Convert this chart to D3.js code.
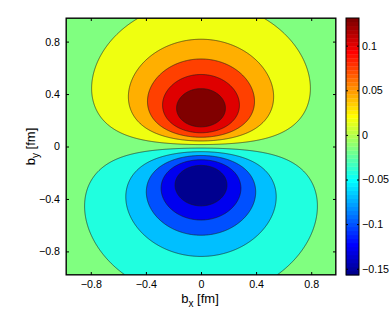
<!DOCTYPE html>
<html>
<head>
<meta charset="utf-8">
<script src="https://cdn.jsdelivr.net/npm/d3@7"></script>
<style>
  body { margin: 0; background: #fff; }
  text { font-family: "Liberation Sans", Arial, sans-serif; }
</style>
</head>
<body>
<svg id="chart"></svg>
<script>
// axis ranges and ticks
const xDomain = [-0.98, 0.98];
const yDomain = [-0.98, 0.98];
const xTicks = [-0.8, -0.4, 0, 0.4, 0.8];
const yTicks = [-0.8, -0.4, 0, 0.4, 0.8];

// colour bar range and ticks
const cbDomain = [-0.157, 0.131];
const cbTicks = [-0.15, -0.1, -0.05, 0, 0.05, 0.1];

// contour levels (the 10 lines in the plot)
const levels = [-0.128, -0.099, -0.071, -0.042, -0.013, 0.016, 0.045, 0.073, 0.102, 0.131];

// dipole-shaped lobe:
// value = lobeAmp * by * exp(-(sqrt(b^2 + lobeCore^2) - lobeCore) / lobeDecay)
const lobeAmp = 1.09;
const lobeCore = 0.22;
const lobeDecay = 0.21;

const W = 392, H = 316;
const plot = { left: 66, right: 336, top: 18, bottom: 275 };
const cbar = { left: 346, right: 359 };
const fontFamily = '"Liberation Sans", Arial, sans-serif';

const svg = d3.select("#chart").attr("width", W).attr("height", H);

const x = d3.scaleLinear().domain(xDomain).range([plot.left, plot.right]);
const y = d3.scaleLinear().domain(yDomain).range([plot.bottom, plot.top]);
const cScale = d3.scaleLinear().domain(cbDomain).range([plot.bottom, plot.top]);

// MATLAB jet(64)
function jet64() {
    const n = 16, u = [];
    for (let i = 1; i <= n; i++) u.push(i / n);
    for (let i = 1; i < n; i++) u.push(1);
    for (let i = n; i >= 1; i--) u.push(i / n);
    const rows = d3.range(64).map(() => [0, 0, 0]);
    u.forEach((v, j) => {
        const g = 9 + j, r = g + n, b = g - n;
        if (g <= 64) rows[g - 1][1] = v;
        if (r <= 64) rows[r - 1][0] = v;
        if (b >= 1) rows[b - 1][2] = v;
    });
    return rows.map(c => d3.rgb(c[0] * 255, c[1] * 255, c[2] * 255).formatHex());
}
const jet = jet64();
function colorOf(v) {
    let i = Math.floor((v - cbDomain[0]) / (cbDomain[1] - cbDomain[0]) * 64);
    i = Math.max(0, Math.min(63, i));
    return jet[i];
}

function field(bx, by) {
    const b2 = bx * bx + by * by;
    return lobeAmp * by * Math.exp(-(Math.sqrt(b2 + lobeCore * lobeCore) - lobeCore) / lobeDecay);
}

// grid over the plot area
const nx = 270, ny = 257;
const gx = d3.scaleLinear().domain([0, nx]).range([plot.left, plot.right]);
const gy = d3.scaleLinear().domain([0, ny]).range([plot.top, plot.bottom]);
const values = new Array(nx * ny);
for (let j = 0; j < ny; j++) {
    const by = y.invert(gy(j + 0.5));
    for (let i = 0; i < nx; i++) {
        const bx = x.invert(gx(i + 0.5));
        values[j * nx + i] = field(bx, by);
    }
}

const contours = d3.contours().size([nx, ny]).thresholds(levels)(values);
const proj = d3.geoTransform({
    point(px, py) { this.stream.point(gx(px), gy(py)); }
});
const path = d3.geoPath(proj);

svg.append("clipPath").attr("id", "plotClip")
    .append("rect")
    .attr("x", plot.left).attr("y", plot.top)
    .attr("width", plot.right - plot.left).attr("height", plot.bottom - plot.top);

const g = svg.append("g").attr("clip-path", "url(#plotClip)");

// lowest band
g.append("rect")
    .attr("x", plot.left).attr("y", plot.top)
    .attr("width", plot.right - plot.left).attr("height", plot.bottom - plot.top)
    .attr("fill", colorOf(cbDomain[0]));

g.selectAll("path.band")
    .data(contours)
    .enter()
    .append("path")
    .attr("class", "band")
    .attr("d", path)
    .attr("fill", d => colorOf(d.value))
    .attr("stroke", "none");

g.selectAll("path.line")
    .data(contours)
    .enter()
    .append("path")
    .attr("class", "line")
    .attr("d", path)
    .attr("fill", "none")
    .attr("stroke", "#1a1a1a")
    .attr("stroke-width", 0.6);

// axes, MATLAB style: ticks pointing in, on all sides
const fmt = d => d === 0 ? "0" : d3.format("~g")(d);

function styleAxis(sel) {
    sel.select(".domain").remove();
    sel.selectAll("text")
        .attr("font-family", fontFamily)
        .attr("font-size", 10.7)
        .attr("fill", "#000");
    sel.selectAll("line").attr("stroke", "#000");
}

svg.append("g")
    .attr("transform", `translate(0,${plot.bottom})`)
    .call(d3.axisBottom(x).tickValues(xTicks).tickFormat(fmt).tickSizeInner(-3).tickSizeOuter(0).tickPadding(5))
    .call(styleAxis);
svg.append("g")
    .attr("transform", `translate(0,${plot.top})`)
    .call(d3.axisTop(x).tickValues(xTicks).tickFormat("").tickSizeInner(-3).tickSizeOuter(0))
    .call(styleAxis);
svg.append("g")
    .attr("transform", `translate(${plot.left},0)`)
    .call(d3.axisLeft(y).tickValues(yTicks).tickFormat(fmt).tickSizeInner(-3).tickSizeOuter(0).tickPadding(6))
    .call(styleAxis);
svg.append("g")
    .attr("transform", `translate(${plot.right},0)`)
    .call(d3.axisRight(y).tickValues(yTicks).tickFormat("").tickSizeInner(-3).tickSizeOuter(0))
    .call(styleAxis);

svg.append("rect")
    .attr("x", plot.left).attr("y", plot.top)
    .attr("width", plot.right - plot.left).attr("height", plot.bottom - plot.top)
    .attr("fill", "none").attr("stroke", "#000").attr("stroke-width", 1);

// axis labels
const xl = svg.append("text")
    .attr("x", (plot.left + plot.right) / 2 - 1)
    .attr("y", 303)
    .attr("text-anchor", "middle")
    .attr("font-family", fontFamily)
    .attr("font-size", 13);
xl.append("tspan").text("b");
xl.append("tspan").attr("font-size", 10).attr("dy", 4).text("x");
xl.append("tspan").attr("dy", -4).text(" [fm]");

const yl = svg.append("text")
    .attr("transform", `translate(35,${(plot.top + plot.bottom) / 2}) rotate(-90)`)
    .attr("text-anchor", "middle")
    .attr("font-family", fontFamily)
    .attr("font-size", 13);
yl.append("tspan").text("b");
yl.append("tspan").attr("font-size", 10).attr("dy", 4).text("y");
yl.append("tspan").attr("dy", -4).text(" [fm]");

// colour bar
const cStep = (cbDomain[1] - cbDomain[0]) / 64;
svg.append("g").selectAll("rect")
    .data(d3.range(64))
    .enter()
    .append("rect")
    .attr("x", cbar.left)
    .attr("width", cbar.right - cbar.left)
    .attr("y", i => cScale(cbDomain[0] + (i + 1) * cStep))
    .attr("height", i => cScale(cbDomain[0] + i * cStep) - cScale(cbDomain[0] + (i + 1) * cStep) + 0.3)
    .attr("fill", i => jet[i]);

svg.append("g")
    .attr("transform", `translate(${cbar.right},0)`)
    .call(d3.axisRight(cScale).tickValues(cbTicks).tickFormat(fmt).tickSizeInner(-2).tickSizeOuter(0).tickPadding(3))
    .call(styleAxis);
svg.append("g")
    .attr("transform", `translate(${cbar.left},0)`)
    .call(d3.axisLeft(cScale).tickValues(cbTicks).tickFormat("").tickSizeInner(-2).tickSizeOuter(0))
    .call(styleAxis);

svg.append("rect")
    .attr("x", cbar.left).attr("y", plot.top)
    .attr("width", cbar.right - cbar.left).attr("height", plot.bottom - plot.top)
    .attr("fill", "none").attr("stroke", "#000").attr("stroke-width", 1);
</script>
</body>
</html>
